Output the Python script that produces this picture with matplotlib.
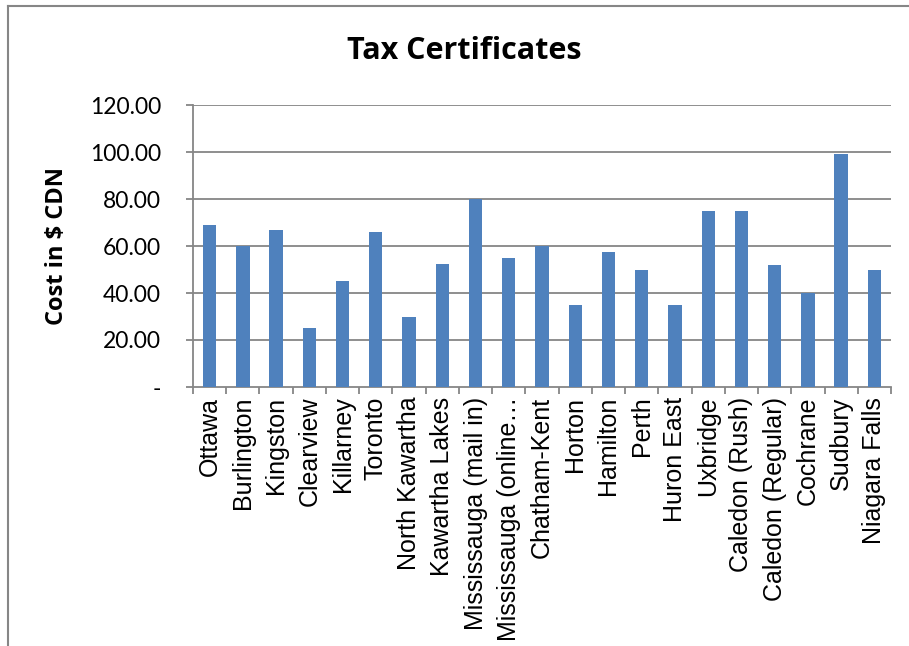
import matplotlib
matplotlib.use("Agg")
import matplotlib.pyplot as plt
from matplotlib.lines import Line2D
import numpy as np

categories = ["Ottawa", "Burlington", "Kingston", "Clearview", "Killarney", "Toronto",
              "North Kawartha", "Kawartha Lakes", "Mississauga (mail in)",
              "Mississauga (online\u2026", "Chatham-Kent", "Horton", "Hamilton", "Perth",
              "Huron East", "Uxbridge", "Caledon (Rush)", "Caledon (Regular)", "Cochrane",
              "Sudbury", "Niagara Falls"]
costs = [69, 60, 67, 25, 45, 66, 30, 52.5, 80, 55, 60, 35, 57.5, 50, 35, 75, 75, 52, 40, 99, 50]
yticks = [0, 20, 40, 60, 80, 100, 120]
ytick_labels = ["-", "20.00", "40.00", "60.00", "80.00", "100.00", "120.00"]

W, H = 909, 646
fig = plt.figure(figsize=(W / 100, H / 100), dpi=100)
ax = fig.add_axes([193 / W, 1 - 387 / H, (891 - 193) / W, (387 - 105) / H])

x = np.arange(len(categories))
ax.bar(x, costs, width=0.4, color="#4F81BD", zorder=3)
ax.set_xlim(-0.5, len(categories) - 0.5)
ax.set_ylim(0, 120)

grid_c = "#868686"
ax.set_yticks(yticks)
ax.set_yticklabels(ytick_labels, fontfamily="Lato", fontsize=16.5)
for y in yticks[1:]:
    ax.axhline(y, color=grid_c, lw=1.3, zorder=1)

ax.set_xticks(x)
ax.set_xticklabels(categories, rotation=90, fontfamily="Liberation Sans", fontsize=18,
                   va="top", ha="center")
ax.set_xticks(np.arange(-0.5, len(categories)), minor=True)
ax.tick_params(axis="x", which="major", length=0, pad=7)
ax.tick_params(axis="x", which="minor", length=5, color=grid_c, width=1.3, direction="out")
ax.tick_params(axis="y", length=5, color=grid_c, width=1.3, pad=18)

for s in ["top", "right"]:
    ax.spines[s].set_visible(False)
for s in ["left", "bottom"]:
    ax.spines[s].set_color(grid_c)
    ax.spines[s].set_linewidth(1.3)

ax.set_ylabel("Cost in $ CDN", fontfamily="Open Sans", fontweight="bold", fontsize=17)
ax.yaxis.set_label_coords(-0.178, 0.5)

fig.text(464 / W, 1 - 51 / H, "Tax Certificates", fontfamily="Open Sans", fontweight="bold",
         fontsize=22, ha="center", va="center")

# chart frame
fig.add_artist(Line2D([8 / W, 8 / W], [-0.1, 1 - 6 / H], transform=fig.transFigure,
                      color=grid_c, lw=1.5))
fig.add_artist(Line2D([8 / W, 1.1], [1 - 6 / H, 1 - 6 / H], transform=fig.transFigure,
                      color=grid_c, lw=1.5))

fig.savefig("out.png", dpi=100)
